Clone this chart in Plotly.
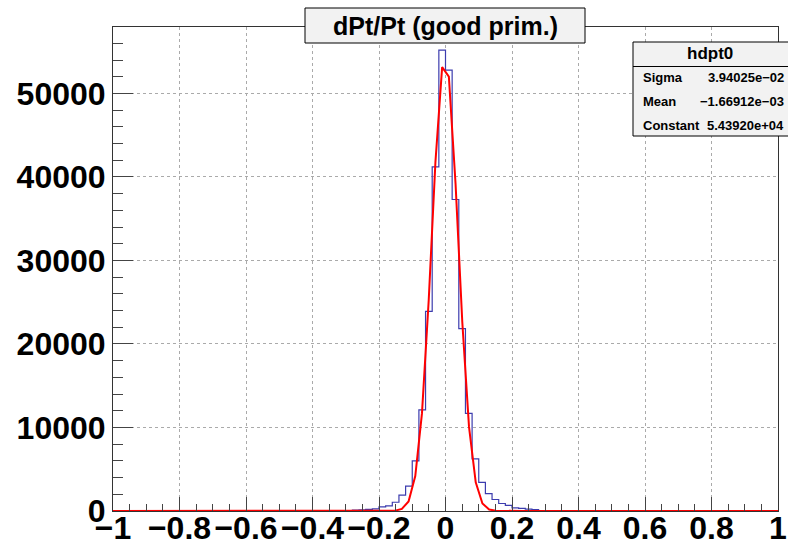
import numpy as np
import plotly.graph_objects as go

# ---------------- data ----------------
bin_edges = list(np.round(np.linspace(-1.0, 1.0, 101), 4))   # 100 bins of 0.02
core_counts = [100, 150, 200, 260, 500, 620, 1050, 1900, 2980, 6000,
               12100, 23900, 41200, 55200, 52800, 37300, 21850, 11700, 6250, 3430,
               2080, 1380, 900, 680, 380, 320, 230, 180]          # bins -0.28 .. 0.28
counts = [0] * 36 + core_counts + [0] * 36

fit_x = list(np.round(np.linspace(-1.0, 1.0, 100), 6))
fit_core = [5, 39, 242, 1149, 4185, 11719, 25233, 41770, 53160, 52018,
            39136, 22636, 10067, 3441, 905, 183, 28, 3]
fit_y = [0] * 41 + fit_core + [0] * 41

x_tickvals = [-1, -0.8, -0.6, -0.4, -0.2, 0, 0.2, 0.4, 0.6, 0.8, 1]
x_ticktext = ["\u22121", "\u22120.8", "\u22120.6", "\u22120.4", "\u22120.2", "0",
              "0.2", "0.4", "0.6", "0.8", "1"]
y_tickvals = [0, 10000, 20000, 30000, 40000, 50000]
y_ticktext = ["0", "10000", "20000", "30000", "40000", "50000"]

title_text = "dPt/Pt (good prim.)"
stats_name = "hdpt0"
stats_labels = ["Sigma", "Mean", "Constant"]
stats_values = ["3.94025e\u221202", "\u22121.66912e\u221203", "5.43920e+04"]

# ---------------- figure ----------------
W, H = 788, 545
L, R, T, B = 113, 10, 27, 34
PW, PH = W - L - R, H - T - B

def px(x):
    return (x - L) / PW

def py(y):
    return (H - B - y) / PH

FONT = "Liberation Sans, Arial, Helvetica, sans-serif"

fig = go.Figure()
fig.add_trace(go.Scatter(
    x=bin_edges, y=counts + [counts[-1]], mode="lines",
    line=dict(color="#3c3cae", width=1.2, shape="hv"),
    hoverinfo="skip", showlegend=False))
fig.add_trace(go.Scatter(
    x=fit_x, y=fit_y, mode="lines",
    line=dict(color="#ff0000", width=2),
    hoverinfo="skip", showlegend=False))

ymax = 1.05 * max(counts)

fig.update_layout(
    width=W, height=H,
    margin=dict(l=L, r=R, t=T, b=B, pad=0, autoexpand=False),
    paper_bgcolor="white", plot_bgcolor="white",
    font=dict(family=FONT, color="black"),
    showlegend=False,
    xaxis=dict(
        range=[-1, 1], tickvals=x_tickvals, ticktext=x_ticktext,
        automargin=False, ticklabelstandoff=-11,
        ticks="inside", ticklen=14, tickcolor="#444", tickwidth=1,
        minor=dict(dtick=0.05, tick0=0, ticks="inside", ticklen=7,
                   tickcolor="#444", showgrid=False),
        showgrid=True, gridcolor="#aaaaaa", griddash="dot", gridwidth=1,
        showline=True, mirror=True, linecolor="#333", linewidth=1,
        zeroline=False,
        tickfont=dict(size=32, family=FONT, weight="bold", color="black"),
    ),
    yaxis=dict(
        range=[0, ymax], tickvals=y_tickvals, ticktext=y_ticktext,
        automargin=False, ticklabelstandoff=0,
        ticks="inside", ticklen=20, tickcolor="#444", tickwidth=1,
        minor=dict(dtick=2000, tick0=0, ticks="inside", ticklen=10,
                   tickcolor="#444", showgrid=False),
        showgrid=True, gridcolor="#aaaaaa", griddash="dot", gridwidth=1,
        showline=True, mirror=True, linecolor="#333", linewidth=1,
        zeroline=False,
        tickfont=dict(size=32, family=FONT, weight="bold", color="black"),
    ),
)

shapes = []
# title box
shapes.append(dict(type="rect", xref="paper", yref="paper",
                   x0=px(305), x1=px(585), y0=py(43), y1=py(8),
                   fillcolor="#f2f2f2", line=dict(color="black", width=1), layer="above"))
# stats box
shapes.append(dict(type="rect", xref="paper", yref="paper",
                   x0=px(633), x1=px(795), y0=py(136), y1=py(42),
                   fillcolor="#f2f2f2", line=dict(color="black", width=1), layer="above"))
shapes.append(dict(type="line", xref="paper", yref="paper",
                   x0=px(633), x1=px(795), y0=py(66.5), y1=py(66.5),
                   line=dict(color="black", width=1), layer="above"))
fig.update_layout(shapes=shapes)

ann = []
ann.append(dict(text=title_text, xref="paper", yref="paper", x=px(445), y=py(26),
                xanchor="center", yanchor="middle", showarrow=False,
                font=dict(size=25, family=FONT, weight="bold", color="black")))
ann.append(dict(text=stats_name, xref="paper", yref="paper", x=px(710), y=py(54),
                xanchor="center", yanchor="middle", showarrow=False,
                font=dict(size=17, family=FONT, weight="bold", color="black")))
row_y = [77, 101, 125]
for lab, val, yy in zip(stats_labels, stats_values, row_y):
    ann.append(dict(text=lab, xref="paper", yref="paper", x=px(641), y=py(yy),
                    xanchor="left", yanchor="middle", showarrow=False,
                    font=dict(size=13, family=FONT, weight="bold", color="black")))
    ann.append(dict(text=val, xref="paper", yref="paper", x=px(786), y=py(yy),
                    xanchor="right", yanchor="middle", showarrow=False,
                    font=dict(size=13, family=FONT, weight="bold", color="black")))
fig.update_layout(annotations=ann)

fig.write_html("out.html")
